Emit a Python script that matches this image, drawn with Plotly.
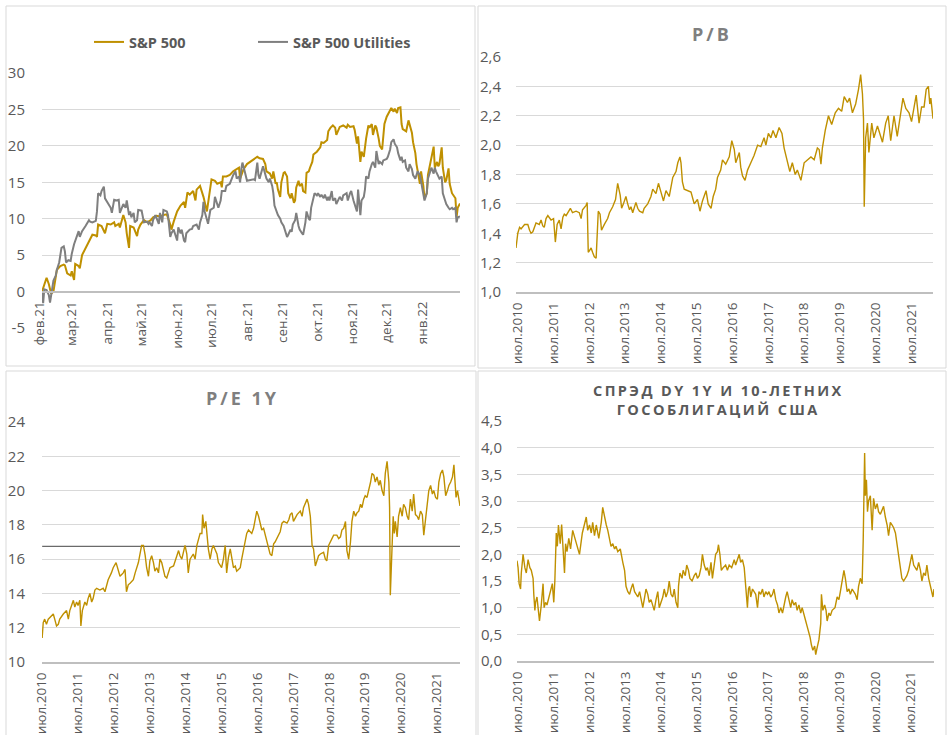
import pandas as pd
import plotly.graph_objects as go

# ---------------- DATA ----------------
# Panel 1: change since 01.02.2021, % (day offset from 2021-02-01, value)
START_1 = "2021-02-01"
SP500 = [(0, 0.0), (4, 1.9), (6, 1.0), (8, -0.3), (10, 0.0), (13, 3.0), (16, 3.5), (19, 3.7), (20, 3.6), (22, 2.5),
         (25, 2.2), (26, 2.8), (28, 1.6), (29, 3.8), (32, 3.5), (33, 3.2), (35, 5.0), (38, 6.0), (41, 7.0), (44, 7.8),
         (47, 7.7), (48, 7.5), (49, 9.2), (52, 9.0), (55, 8.0), (57, 9.3), (60, 9.2), (63, 9.5), (64, 9.0), (67, 9.3),
         (68, 8.8), (70, 10.0), (71, 10.5), (73, 9.5), (74, 8.0), (76, 6.0), (77, 9.0), (80, 8.8), (83, 7.6), (84, 8.5),
         (86, 9.2), (89, 9.8), (92, 9.5), (95, 9.8), (97, 10.2), (100, 10.4), (103, 10.3), (106, 10.5), (109, 10.6),
         (112, 9.2), (113, 8.5), (115, 9.6), (118, 11.0), (121, 11.8), (124, 12.3), (125, 11.5), (127, 13.6),
         (129, 13.3), (132, 13.8), (134, 12.5), (135, 14.0), (138, 14.5), (141, 13.0), (144, 11.0), (145, 12.0),
         (147, 13.8), (148, 15.4), (151, 15.2), (153, 14.8), (156, 15.0), (157, 14.3), (158, 15.8), (161, 15.8),
         (164, 16.0), (167, 16.5), (170, 16.8), (172, 17.0), (173, 15.5), (176, 16.8), (179, 17.5), (182, 17.8),
         (185, 18.2), (188, 18.5), (190, 18.3), (193, 18.2), (195, 17.5), (196, 16.5), (199, 16.2), (201, 15.5),
         (202, 16.5), (204, 14.8), (205, 15.0), (206, 14.0), (208, 13.0), (209, 15.0), (211, 16.3), (212, 16.4),
         (214, 15.8), (215, 13.5), (217, 12.8), (218, 13.5), (220, 12.2), (221, 12.5), (222, 14.3), (224, 15.2),
         (225, 14.5), (227, 14.8), (228, 13.8), (230, 13.6), (231, 16.3), (233, 16.5), (234, 17.0), (236, 17.8),
         (237, 18.8), (240, 19.2), (243, 19.8), (244, 20.5), (246, 20.4), (249, 20.8), (250, 22.0), (252, 22.5),
         (254, 22.8), (256, 22.5), (257, 21.5), (259, 22.2), (260, 22.6), (263, 22.8), (266, 22.5), (267, 22.9),
         (269, 22.6), (272, 22.7), (273, 22.2), (275, 20.3), (276, 21.3), (278, 17.8), (279, 19.2), (281, 18.5),
         (282, 19.8), (283, 21.0), (285, 22.8), (286, 22.5), (288, 23.0), (289, 21.5), (291, 22.8), (292, 22.5),
         (294, 21.0), (295, 20.0), (297, 19.5), (298, 21.5), (299, 23.0), (301, 24.0), (304, 25.0), (305, 25.2),
         (307, 24.7), (308, 25.1), (310, 24.5), (311, 25.2), (313, 25.3), (314, 23.0), (315, 22.3), (318, 22.0),
         (320, 23.5), (321, 22.8), (323, 21.8), (324, 20.5), (326, 19.0), (327, 17.5), (329, 16.0), (330, 14.8),
         (331, 16.5), (333, 14.5), (334, 12.8), (336, 13.5), (337, 16.0), (339, 17.5), (340, 18.5), (342, 19.9),
         (343, 17.0), (345, 17.8), (346, 17.2), (347, 17.5), (349, 19.8), (350, 17.0), (352, 15.0), (353, 15.3),
         (355, 16.9), (356, 14.8), (358, 13.5), (359, 13.2), (361, 12.8), (362, 10.2), (363, 11.5), (365, 12.1)]

UTILITIES = [(0, 0.0), (1, -1.6), (2, 0.3), (4, 0.2), (6, -0.5), (7, -1.5), (9, 0.5), (10, 1.5), (12, 2.2), (13, 3.0),
             (15, 4.0), (16, 5.0), (17, 6.0), (19, 6.2), (20, 5.5), (21, 4.0), (23, 4.3), (25, 4.2), (26, 5.2),
             (28, 6.5), (29, 7.0), (31, 7.8), (32, 8.3), (33, 7.5), (35, 8.3), (38, 9.0), (39, 9.3), (41, 9.8),
             (42, 9.6), (44, 9.5), (47, 9.7), (48, 11.0), (49, 13.5), (51, 13.2), (52, 13.8), (54, 14.4), (55, 12.8),
             (57, 12.2), (60, 11.5), (61, 10.8), (63, 12.6), (65, 12.5), (67, 12.6), (68, 10.8), (70, 11.5),
             (71, 12.0), (73, 11.5), (74, 12.5), (76, 10.5), (77, 11.0), (78, 10.2), (80, 10.8), (81, 9.5),
             (83, 9.8), (84, 11.2), (87, 11.1), (89, 9.5), (92, 9.6), (93, 9.3), (94, 9.5), (96, 9.0), (97, 9.8),
             (99, 10.5), (100, 10.0), (102, 9.3), (103, 10.8), (105, 9.5), (106, 11.2), (109, 11.0), (110, 10.5),
             (112, 7.5), (113, 8.0), (115, 8.5), (116, 8.0), (118, 7.0), (119, 8.8), (121, 8.0), (122, 8.5),
             (124, 7.0), (125, 6.8), (126, 8.0), (129, 8.5), (131, 8.6), (132, 9.0), (135, 9.2), (137, 8.5),
             (138, 9.5), (140, 10.5), (141, 12.3), (142, 11.0), (144, 10.0), (145, 9.3), (147, 11.2), (150, 11.5),
             (151, 13.0), (153, 12.0), (154, 11.5), (156, 12.5), (157, 13.8), (160, 13.8), (161, 14.5), (164, 14.8),
             (167, 16.0), (169, 16.5), (170, 15.5), (172, 15.8), (173, 15.0), (174, 16.8), (175, 17.7), (177, 16.5),
             (179, 15.2), (182, 15.3), (185, 15.4), (186, 15.3), (188, 17.7), (189, 16.0), (190, 15.5), (193, 17.2),
             (195, 16.0), (196, 15.5), (198, 15.0), (199, 15.5), (201, 14.5), (202, 13.5), (203, 11.8), (205, 11.0),
             (206, 10.5), (208, 10.0), (209, 9.5), (211, 9.0), (212, 8.5), (214, 7.5), (215, 7.8), (217, 8.5),
             (218, 8.2), (219, 9.2), (221, 9.8), (222, 10.8), (224, 9.0), (225, 8.5), (227, 8.0), (228, 7.8),
             (230, 9.5), (231, 11.0), (233, 10.0), (234, 9.8), (235, 11.5), (237, 13.0), (238, 13.5), (240, 13.2),
             (241, 13.5), (243, 13.0), (244, 13.3), (246, 12.8), (247, 13.3), (249, 12.5), (250, 13.0), (251, 12.5),
             (253, 13.8), (254, 12.5), (256, 12.8), (257, 12.0), (259, 12.8), (260, 13.0), (262, 12.5), (263, 13.2),
             (266, 13.5), (267, 12.5), (269, 13.5), (270, 13.8), (272, 12.5), (273, 12.0), (275, 11.0), (276, 14.0),
             (278, 10.5), (279, 12.5), (281, 13.0), (282, 14.0), (283, 15.8), (285, 15.5), (286, 16.5), (288, 17.5),
             (289, 17.8), (291, 17.0), (292, 19.3), (294, 17.5), (295, 17.8), (297, 17.5), (298, 18.0), (301, 18.2),
             (302, 18.5), (304, 19.5), (305, 20.5), (307, 20.9), (308, 20.3), (310, 19.8), (311, 19.0), (313, 18.0),
             (314, 18.5), (315, 17.8), (317, 18.0), (318, 17.0), (320, 16.5), (321, 17.5), (323, 16.8), (324, 16.0),
             (326, 15.5), (327, 16.0), (328, 16.5), (330, 16.0), (331, 15.0), (333, 13.5), (334, 12.5), (336, 13.5),
             (337, 15.5), (339, 16.5), (340, 17.0), (342, 16.2), (343, 17.0), (344, 16.5), (346, 15.8), (347, 15.5),
             (349, 15.8), (350, 13.5), (352, 12.5), (353, 12.0), (355, 11.5), (356, 11.3), (358, 11.5), (359, 11.3),
             (361, 11.5), (362, 9.5), (363, 10.2), (365, 10.3)]

MONTH_TICKS_1 = ["2021-02-01", "2021-03-01", "2021-04-01", "2021-05-01", "2021-06-01", "2021-07-01",
                 "2021-08-01", "2021-09-01", "2021-10-01", "2021-11-01", "2021-12-01", "2022-01-01"]
MONTH_LABELS_1 = ["фев.21", "мар.21", "апр.21", "май.21", "июн.21", "июл.21",
                  "авг.21", "сен.21", "окт.21", "ноя.21", "дек.21", "янв.22"]
Y1_TICKS = [-5, 0, 5, 10, 15, 20, 25, 30]
Y1_LABELS = ["-5", "0", "5", "10", "15", "20", "25", "30"]

# Panels 2-4: (decimal year, value)
PB = [(2010.45, 1.30), (2010.50, 1.40), (2010.55, 1.44), (2010.59, 1.43), (2010.69, 1.46), (2010.78, 1.46),
      (2010.83, 1.42), (2010.87, 1.40), (2010.92, 1.41), (2010.97, 1.45), (2011.01, 1.47), (2011.10, 1.46),
      (2011.15, 1.49), (2011.20, 1.45), (2011.24, 1.44), (2011.29, 1.50), (2011.34, 1.52), (2011.43, 1.49),
      (2011.50, 1.50), (2011.55, 1.34), (2011.60, 1.46), (2011.66, 1.49), (2011.71, 1.43), (2011.76, 1.51),
      (2011.80, 1.53), (2011.85, 1.52), (2011.92, 1.55), (2011.97, 1.57), (2012.03, 1.54), (2012.13, 1.55),
      (2012.22, 1.54), (2012.27, 1.50), (2012.31, 1.56), (2012.41, 1.59), (2012.44, 1.61), (2012.47, 1.27),
      (2012.50, 1.28), (2012.55, 1.30), (2012.59, 1.27), (2012.64, 1.24), (2012.69, 1.23), (2012.71, 1.38),
      (2012.75, 1.55), (2012.80, 1.53), (2012.84, 1.42), (2012.92, 1.46), (2013.01, 1.50), (2013.06, 1.54),
      (2013.15, 1.58), (2013.23, 1.63), (2013.29, 1.74), (2013.36, 1.66), (2013.40, 1.57), (2013.45, 1.60),
      (2013.52, 1.65), (2013.57, 1.60), (2013.62, 1.56), (2013.66, 1.58), (2013.71, 1.54), (2013.80, 1.61),
      (2013.85, 1.57), (2013.90, 1.55), (2013.99, 1.54), (2014.03, 1.57), (2014.13, 1.60), (2014.22, 1.65),
      (2014.27, 1.70), (2014.36, 1.67), (2014.43, 1.74), (2014.50, 1.68), (2014.57, 1.62), (2014.64, 1.69),
      (2014.73, 1.65), (2014.83, 1.78), (2014.92, 1.82), (2014.97, 1.88), (2015.03, 1.92), (2015.06, 1.88),
      (2015.10, 1.75), (2015.15, 1.70), (2015.24, 1.69), (2015.34, 1.68), (2015.43, 1.60), (2015.52, 1.63),
      (2015.59, 1.55), (2015.66, 1.62), (2015.76, 1.69), (2015.82, 1.60), (2015.90, 1.57), (2015.96, 1.65),
      (2016.03, 1.70), (2016.08, 1.78), (2016.17, 1.83), (2016.22, 1.90), (2016.31, 1.87), (2016.41, 1.92),
      (2016.48, 2.03), (2016.55, 1.97), (2016.59, 1.88), (2016.69, 1.95), (2016.73, 1.85), (2016.78, 1.79),
      (2016.85, 1.76), (2016.92, 1.83), (2017.01, 1.88), (2017.10, 1.93), (2017.20, 2.00), (2017.29, 1.99),
      (2017.38, 2.05), (2017.43, 2.00), (2017.50, 2.08), (2017.57, 2.05), (2017.63, 2.10), (2017.71, 2.05),
      (2017.80, 2.12), (2017.88, 2.08), (2017.94, 1.98), (2018.03, 1.88), (2018.10, 1.82), (2018.17, 1.88),
      (2018.25, 1.80), (2018.31, 1.83), (2018.41, 1.76), (2018.50, 1.88), (2018.59, 1.90), (2018.69, 1.92),
      (2018.78, 1.90), (2018.87, 1.98), (2018.92, 1.97), (2018.97, 1.87), (2019.01, 1.98), (2019.09, 2.10),
      (2019.18, 2.20), (2019.27, 2.14), (2019.37, 2.22), (2019.46, 2.25), (2019.55, 2.23), (2019.62, 2.33),
      (2019.71, 2.29), (2019.77, 2.32), (2019.85, 2.22), (2019.94, 2.28), (2020.02, 2.38), (2020.08, 2.48),
      (2020.13, 2.35), (2020.16, 2.18), (2020.18, 1.58), (2020.22, 2.05), (2020.27, 2.15), (2020.31, 1.95),
      (2020.39, 2.15), (2020.45, 2.05), (2020.55, 2.13), (2020.62, 2.08), (2020.69, 2.02), (2020.78, 2.15),
      (2020.85, 2.20), (2020.92, 2.03), (2021.01, 2.20), (2021.10, 2.06), (2021.17, 2.19), (2021.26, 2.32),
      (2021.34, 2.25), (2021.43, 2.22), (2021.50, 2.16), (2021.57, 2.27), (2021.63, 2.34), (2021.71, 2.15),
      (2021.78, 2.26), (2021.85, 2.26), (2021.91, 2.38), (2021.97, 2.40), (2022.01, 2.28), (2022.04, 2.32),
      (2022.08, 2.22), (2022.10, 2.18)]

PE_1Y = [(2010.50, 11.4), (2010.53, 12.3), (2010.57, 12.5), (2010.62, 12.2), (2010.67, 12.5), (2010.71, 12.6),
         (2010.81, 12.8), (2010.85, 12.5), (2010.90, 12.1), (2010.95, 12.2), (2010.99, 12.5), (2011.09, 12.8),
         (2011.18, 13.0), (2011.23, 12.5), (2011.27, 13.0), (2011.32, 13.3), (2011.37, 13.6), (2011.41, 13.2),
         (2011.46, 13.5), (2011.50, 13.3), (2011.55, 13.6), (2011.58, 12.1), (2011.62, 13.0), (2011.69, 13.5),
         (2011.74, 13.3), (2011.78, 13.7), (2011.83, 14.0), (2011.88, 13.5), (2011.92, 13.7), (2011.97, 14.2),
         (2012.02, 14.3), (2012.11, 14.2), (2012.20, 14.3), (2012.25, 14.1), (2012.30, 14.5), (2012.34, 14.8),
         (2012.43, 15.2), (2012.48, 15.5), (2012.56, 15.8), (2012.62, 15.3), (2012.67, 15.0), (2012.76, 15.2),
         (2012.81, 15.4), (2012.85, 14.1), (2012.90, 14.5), (2012.95, 14.6), (2013.04, 14.8), (2013.09, 15.2),
         (2013.13, 15.5), (2013.18, 15.8), (2013.27, 16.8), (2013.32, 16.8), (2013.37, 16.2), (2013.41, 15.5),
         (2013.46, 15.0), (2013.50, 15.9), (2013.55, 16.2), (2013.60, 15.8), (2013.64, 15.3), (2013.69, 15.5),
         (2013.74, 15.2), (2013.78, 16.0), (2013.83, 15.8), (2013.88, 15.4), (2013.92, 15.0), (2013.97, 14.9),
         (2014.02, 15.2), (2014.06, 15.5), (2014.16, 15.6), (2014.25, 16.2), (2014.30, 16.5), (2014.34, 16.2),
         (2014.39, 16.0), (2014.48, 16.8), (2014.53, 16.3), (2014.57, 15.2), (2014.62, 16.0), (2014.71, 16.3),
         (2014.76, 16.0), (2014.81, 16.8), (2014.90, 17.5), (2014.95, 17.5), (2014.97, 18.6), (2015.01, 17.8),
         (2015.06, 18.2), (2015.09, 17.5), (2015.13, 16.6), (2015.18, 16.0), (2015.23, 16.6), (2015.27, 16.8),
         (2015.32, 16.5), (2015.37, 16.3), (2015.41, 15.8), (2015.46, 15.6), (2015.50, 15.5), (2015.55, 16.0),
         (2015.60, 16.8), (2015.64, 15.2), (2015.69, 16.1), (2015.74, 16.6), (2015.78, 16.2), (2015.83, 15.5),
         (2015.88, 15.6), (2015.92, 15.3), (2015.97, 15.4), (2016.02, 15.5), (2016.06, 16.0), (2016.11, 16.6),
         (2016.16, 17.0), (2016.20, 17.5), (2016.25, 17.7), (2016.34, 17.5), (2016.39, 17.8), (2016.43, 18.3),
         (2016.48, 18.8), (2016.53, 18.5), (2016.57, 18.2), (2016.62, 17.7), (2016.67, 17.8), (2016.71, 17.5),
         (2016.76, 17.0), (2016.81, 16.6), (2016.85, 16.3), (2016.90, 16.2), (2016.95, 16.9), (2016.99, 17.0),
         (2017.04, 17.2), (2017.13, 17.6), (2017.18, 18.1), (2017.23, 18.2), (2017.32, 18.1), (2017.37, 18.3),
         (2017.41, 18.6), (2017.46, 18.7), (2017.50, 18.2), (2017.60, 18.6), (2017.69, 18.8), (2017.74, 18.5),
         (2017.78, 19.0), (2017.83, 19.3), (2017.88, 19.5), (2017.92, 19.2), (2017.97, 18.5), (2018.02, 16.8),
         (2018.06, 16.6), (2018.11, 15.6), (2018.16, 16.0), (2018.20, 16.2), (2018.25, 16.3), (2018.34, 16.4),
         (2018.39, 16.0), (2018.43, 15.9), (2018.48, 16.8), (2018.53, 17.0), (2018.57, 17.2), (2018.62, 17.4),
         (2018.71, 17.4), (2018.76, 17.2), (2018.81, 17.3), (2018.85, 17.7), (2018.90, 17.8), (2018.95, 18.2),
         (2018.99, 16.5), (2019.04, 16.0), (2019.09, 17.0), (2019.13, 18.2), (2019.18, 18.8), (2019.23, 18.5),
         (2019.27, 18.7), (2019.32, 18.8), (2019.37, 19.2), (2019.41, 19.0), (2019.46, 19.5), (2019.50, 19.7),
         (2019.55, 19.6), (2019.60, 20.0), (2019.65, 20.5), (2019.69, 21.0), (2019.74, 20.9), (2019.78, 20.5),
         (2019.83, 20.8), (2019.88, 20.3), (2019.92, 20.6), (2019.97, 20.0), (2020.02, 19.7), (2020.06, 21.0),
         (2020.11, 21.7), (2020.16, 20.5), (2020.18, 19.0), (2020.20, 13.9), (2020.23, 16.0), (2020.28, 18.5),
         (2020.31, 17.5), (2020.34, 18.2), (2020.39, 17.3), (2020.43, 18.5), (2020.48, 19.0), (2020.53, 18.5),
         (2020.57, 19.2), (2020.62, 19.0), (2020.67, 18.5), (2020.71, 18.3), (2020.76, 19.5), (2020.81, 18.8),
         (2020.85, 19.8), (2020.90, 18.6), (2020.95, 18.5), (2020.99, 18.3), (2021.04, 18.8), (2021.09, 18.6),
         (2021.13, 17.4), (2021.18, 18.3), (2021.23, 19.0), (2021.27, 20.0), (2021.32, 20.3), (2021.37, 19.8),
         (2021.41, 20.0), (2021.46, 19.6), (2021.51, 19.5), (2021.55, 20.5), (2021.60, 21.0), (2021.65, 21.2),
         (2021.69, 20.8), (2021.74, 19.7), (2021.79, 20.0), (2021.83, 20.3), (2021.88, 20.5), (2021.93, 20.8),
         (2021.97, 21.5), (2022.00, 20.3), (2022.03, 19.6), (2022.07, 20.0), (2022.10, 19.5), (2022.12, 19.2),
         (2022.14, 19.1)]
PE_AVG = 16.75

SPREAD = [(2010.47, 1.88), (2010.50, 1.75), (2010.53, 1.45), (2010.57, 1.35), (2010.59, 1.65), (2010.64, 2.00),
          (2010.69, 1.75), (2010.73, 1.65), (2010.78, 1.90), (2010.83, 1.75), (2010.87, 1.70), (2010.92, 1.55),
          (2010.94, 1.25), (2010.97, 0.95), (2010.99, 1.10), (2011.03, 1.20), (2011.06, 1.00), (2011.10, 0.75),
          (2011.15, 1.05), (2011.20, 1.45), (2011.23, 1.00), (2011.27, 1.10), (2011.31, 1.05), (2011.37, 1.20),
          (2011.40, 1.25), (2011.46, 1.45), (2011.50, 1.10), (2011.53, 1.50), (2011.57, 2.40), (2011.60, 2.15),
          (2011.63, 2.55), (2011.68, 2.20), (2011.72, 2.56), (2011.76, 2.00), (2011.80, 1.65), (2011.83, 2.20),
          (2011.87, 2.05), (2011.92, 2.30), (2011.97, 2.10), (2012.03, 2.45), (2012.11, 2.25), (2012.17, 2.15),
          (2012.22, 2.00), (2012.30, 2.40), (2012.36, 2.55), (2012.41, 2.70), (2012.45, 2.45), (2012.50, 2.55),
          (2012.55, 2.40), (2012.59, 2.60), (2012.64, 2.35), (2012.69, 2.55), (2012.76, 2.30), (2012.83, 2.60),
          (2012.87, 2.88), (2012.92, 2.70), (2012.97, 2.55), (2013.01, 2.45), (2013.06, 2.25), (2013.10, 2.15),
          (2013.15, 2.20), (2013.20, 2.10), (2013.24, 2.15), (2013.29, 2.05), (2013.36, 2.10), (2013.40, 1.90),
          (2013.43, 1.85), (2013.48, 1.70), (2013.52, 1.40), (2013.57, 1.30), (2013.62, 1.25), (2013.66, 1.35),
          (2013.71, 1.45), (2013.76, 1.30), (2013.80, 1.25), (2013.85, 1.20), (2013.90, 1.30), (2013.94, 1.15),
          (2013.99, 1.00), (2014.03, 1.15), (2014.08, 1.35), (2014.13, 1.25), (2014.17, 1.10), (2014.22, 1.15),
          (2014.27, 1.05), (2014.31, 0.95), (2014.36, 1.15), (2014.41, 1.30), (2014.45, 1.00), (2014.50, 1.10),
          (2014.55, 1.20), (2014.59, 1.35), (2014.64, 1.20), (2014.69, 1.30), (2014.73, 1.50), (2014.78, 1.25),
          (2014.83, 1.20), (2014.87, 1.35), (2014.92, 1.10), (2014.97, 1.00), (2014.99, 1.40), (2015.03, 1.65),
          (2015.09, 1.55), (2015.12, 1.70), (2015.18, 1.60), (2015.22, 1.80), (2015.27, 1.70), (2015.31, 1.55),
          (2015.37, 1.50), (2015.43, 1.60), (2015.48, 1.65), (2015.52, 1.55), (2015.57, 1.60), (2015.62, 1.75),
          (2015.66, 2.00), (2015.71, 1.80), (2015.76, 1.70), (2015.80, 1.75), (2015.85, 1.60), (2015.90, 1.85),
          (2015.94, 1.55), (2015.99, 1.80), (2016.03, 2.00), (2016.08, 2.05), (2016.11, 2.18), (2016.15, 2.00),
          (2016.19, 1.70), (2016.24, 1.75), (2016.31, 1.80), (2016.36, 1.70), (2016.41, 1.80), (2016.48, 1.75),
          (2016.55, 1.90), (2016.59, 1.80), (2016.64, 1.90), (2016.69, 2.00), (2016.73, 1.85), (2016.78, 1.90),
          (2016.83, 1.75), (2016.87, 1.40), (2016.92, 1.00), (2016.95, 1.35), (2016.98, 1.40), (2017.01, 1.20),
          (2017.06, 1.35), (2017.15, 1.25), (2017.20, 1.00), (2017.24, 1.30), (2017.29, 1.25), (2017.34, 1.35),
          (2017.38, 1.20), (2017.43, 1.30), (2017.48, 1.25), (2017.52, 1.30), (2017.57, 1.20), (2017.62, 1.25),
          (2017.66, 1.35), (2017.71, 1.15), (2017.76, 1.05), (2017.80, 0.90), (2017.85, 1.00), (2017.90, 0.90),
          (2017.94, 1.05), (2017.99, 1.20), (2018.03, 1.30), (2018.08, 1.15), (2018.13, 1.00), (2018.17, 1.15),
          (2018.22, 1.05), (2018.27, 1.10), (2018.31, 0.95), (2018.36, 1.05), (2018.41, 0.90), (2018.45, 1.00),
          (2018.50, 0.85), (2018.55, 0.75), (2018.59, 0.65), (2018.64, 0.55), (2018.67, 0.45), (2018.71, 0.30),
          (2018.75, 0.20), (2018.80, 0.28), (2018.83, 0.12), (2018.87, 0.25), (2018.92, 0.40), (2018.97, 0.70),
          (2018.99, 1.25), (2019.03, 0.95), (2019.08, 1.05), (2019.12, 0.95), (2019.15, 0.75), (2019.20, 0.90),
          (2019.24, 0.85), (2019.29, 0.95), (2019.37, 1.00), (2019.43, 1.20), (2019.48, 1.15), (2019.52, 1.30),
          (2019.57, 1.50), (2019.62, 1.70), (2019.66, 1.55), (2019.71, 1.30), (2019.76, 1.35), (2019.80, 1.25),
          (2019.85, 1.35), (2019.90, 1.30), (2019.94, 1.25), (2019.99, 1.15), (2020.03, 1.40), (2020.08, 1.55),
          (2020.13, 1.45), (2020.16, 2.25), (2020.17, 3.00), (2020.20, 3.90), (2020.22, 3.10), (2020.25, 3.40),
          (2020.28, 2.80), (2020.31, 3.00), (2020.36, 3.10), (2020.39, 2.70), (2020.41, 2.45), (2020.45, 3.05),
          (2020.50, 2.85), (2020.55, 2.95), (2020.59, 2.80), (2020.64, 2.75), (2020.69, 2.85), (2020.73, 2.90),
          (2020.78, 2.70), (2020.83, 2.55), (2020.87, 2.35), (2020.92, 2.60), (2020.97, 2.55), (2021.01, 2.50),
          (2021.06, 2.40), (2021.10, 2.20), (2021.15, 1.95), (2021.20, 1.70), (2021.24, 1.55), (2021.29, 1.50),
          (2021.34, 1.55), (2021.38, 1.60), (2021.43, 1.70), (2021.48, 1.85), (2021.52, 2.00), (2021.57, 1.80),
          (2021.62, 1.75), (2021.66, 1.70), (2021.71, 1.85), (2021.76, 1.70), (2021.80, 1.50), (2021.85, 1.65),
          (2021.90, 1.60), (2021.94, 1.80), (2021.99, 1.55), (2022.04, 1.40), (2022.08, 1.30), (2022.11, 1.20),
          (2022.14, 1.35)]

YEAR_TICKS = [2010, 2011, 2012, 2013, 2014, 2015, 2016, 2017, 2018, 2019, 2020, 2021]
YEAR_LABELS = ["июл." + str(y) for y in YEAR_TICKS]

# ---------------- HELPERS ----------------
W, H = 952, 735
GOLD = "#BF9000"
GREY = "#7F7F7F"
TXT = "#595959"
GRID = "#D9D9D9"
AXL = "#BFBFBF"
FONT = "Open Sans"


def px(x):
    return x / W


def py(y):
    return 1 - y / H


def dec_to_date(t):
    y = int(t)
    return pd.Timestamp(year=y, month=1, day=1) + pd.Timedelta(days=(t - y) * 365.25)


def spaced(s, sep="\u2009"):
    return sep.join(s)


def unzip(pairs):
    return [p[0] for p in pairs], [p[1] for p in pairs]


d_sp, v_sp = unzip(SP500)
d_ut, v_ut = unzip(UTILITIES)
x_sp = [pd.Timestamp(START_1) + pd.Timedelta(days=d) for d in d_sp]
x_ut = [pd.Timestamp(START_1) + pd.Timedelta(days=d) for d in d_ut]

t_pb, v_pb = unzip(PB)
t_pe, v_pe = unzip(PE_1Y)
t_sp, v_spr = unzip(SPREAD)
x_pb = [dec_to_date(t) for t in t_pb]
x_pe = [dec_to_date(t) for t in t_pe]
x_spr = [dec_to_date(t) for t in t_sp]
year_tickvals = [pd.Timestamp(year=y, month=7, day=1) for y in YEAR_TICKS]

fig = go.Figure()

# Panel 1
fig.add_trace(go.Scatter(x=x_sp, y=v_sp, mode="lines", name="S&P 500",
                         line=dict(color=GOLD, width=2), xaxis="x", yaxis="y", legend="legend"))
fig.add_trace(go.Scatter(x=x_ut, y=v_ut, mode="lines", name="S&P 500 Utilities",
                         line=dict(color=GREY, width=2), xaxis="x", yaxis="y", legend="legend2"))
# Panel 2
fig.add_trace(go.Scatter(x=x_pb, y=v_pb, mode="lines", showlegend=False,
                         line=dict(color=GOLD, width=1.4), xaxis="x2", yaxis="y2"))
# Panel 3
fig.add_trace(go.Scatter(x=[x_pe[0], x_pe[-1]], y=[PE_AVG, PE_AVG], mode="lines", showlegend=False,
                         line=dict(color="#6A6A6A", width=1.3), xaxis="x3", yaxis="y3"))
fig.add_trace(go.Scatter(x=x_pe, y=v_pe, mode="lines", showlegend=False,
                         line=dict(color=GOLD, width=1.4), xaxis="x3", yaxis="y3"))
# Panel 4
fig.add_trace(go.Scatter(x=x_spr, y=v_spr, mode="lines", showlegend=False,
                         line=dict(color=GOLD, width=1.4), xaxis="x4", yaxis="y4"))

xtick_font = dict(family=FONT, size=13.5, color=TXT)
ytick_font = dict(family=FONT, size=15, color=TXT)


def xaxis_common(domain, rng, tickvals, ticktext, anchor, shift, position=None):
    d = dict(domain=domain, type="date", range=rng, tickmode="array", tickvals=tickvals, ticktext=ticktext,
             tickangle=-90, tickfont=xtick_font, showgrid=False, zeroline=False, showline=True,
             linecolor=AXL, linewidth=2, ticks="outside", ticklen=3, tickcolor="rgba(0,0,0,0)",
             ticklabelshift=shift, anchor=anchor, automargin=False)
    if position is not None:
        d["position"] = position
    return d


def yaxis_common(domain, rng, dtick, anchor, standoff, fmt=None):
    d = dict(domain=domain, range=rng, dtick=dtick, tick0=rng[0], showgrid=True, gridcolor=GRID, gridwidth=1,
             zeroline=False, showline=False, tickfont=ytick_font, ticks="",
             ticklabelstandoff=standoff, anchor=anchor, automargin=False)
    if fmt:
        d["tickformat"] = fmt
    return d


y1 = yaxis_common([py(328), py(73)], [-5, 30], 5, "x", 16)
y1.update(tickmode="array", tickvals=Y1_TICKS, ticktext=Y1_LABELS)

fig.update_layout(
    width=W, height=H, margin=dict(l=0, r=0, t=0, b=0, autoexpand=False),
    paper_bgcolor="white", plot_bgcolor="white",
    separators=", ",
    font=dict(family=FONT, color=TXT),
    xaxis=xaxis_common([px(42), px(460)], [x_sp[0], x_sp[-1]], MONTH_TICKS_1, MONTH_LABELS_1, "free", -2,
                       py(292)),
    yaxis=y1,
    xaxis2=xaxis_common([px(516), px(933)], [min(x_pb[0], year_tickvals[0]), x_pb[-1]],
                        year_tickvals, YEAR_LABELS, "y2", 0),
    yaxis2=yaxis_common([py(292), py(57)], [1.0, 2.6], 0.2, "x2", 14, ".1f"),
    xaxis3=xaxis_common([px(42), px(460)], [min(x_pe[0], year_tickvals[0]), x_pe[-1]],
                        year_tickvals, YEAR_LABELS, "y3", 0),
    yaxis3=yaxis_common([py(662), py(422)], [10, 24], 2, "x3", 16),
    xaxis4=xaxis_common([px(517), px(934)], [min(x_spr[0], year_tickvals[0]), x_spr[-1]],
                        year_tickvals, YEAR_LABELS, "y4", 0),
    yaxis4=yaxis_common([py(661), py(421)], [0, 4.5], 0.5, "x4", 14, ".1f"),
    legend=dict(x=px(89), y=py(42), xanchor="left", yanchor="middle", orientation="h",
                bgcolor="rgba(0,0,0,0)", font=dict(family=FONT, size=14.5, color=TXT, weight="bold")),
    legend2=dict(x=px(253), y=py(42), xanchor="left", yanchor="middle", orientation="h",
                 bgcolor="rgba(0,0,0,0)", font=dict(family=FONT, size=14.5, color=TXT, weight="bold")),
    showlegend=True,
)

# Panel frames
frames = [(6, 6, 475, 366), (478, 6, 946, 368), (6, 371, 476, 736), (478, 371, 946, 736)]
for (x0, y0, x1, y1_) in frames:
    fig.add_shape(type="rect", xref="paper", yref="paper", x0=px(x0), x1=px(x1), y0=py(y1_), y1=py(y0),
                  line=dict(color=GRID, width=1), fillcolor="rgba(0,0,0,0)", layer="below")

# Titles
fig.add_annotation(text=spaced("P/B"), xref="paper", yref="paper", x=px(710), y=py(34), showarrow=False,
                   xanchor="center", yanchor="middle",
                   font=dict(family=FONT, size=18, color=GREY, weight="bold"))
fig.add_annotation(text=spaced("P/E 1Y"), xref="paper", yref="paper", x=px(241), y=py(398), showarrow=False,
                   xanchor="center", yanchor="middle",
                   font=dict(family=FONT, size=18, color=GREY, weight="bold"))
fig.add_annotation(text=spaced("СПРЭД DY 1Y И 10-ЛЕТНИХ") + "<br>" + spaced("ГОСОБЛИГАЦИЙ США"),
                   xref="paper", yref="paper", x=px(717), y=py(400), showarrow=False,
                   xanchor="center", yanchor="middle", align="center",
                   font=dict(family=FONT, size=14.5, color=TXT, weight="bold"))

fig.write_html("out.html")
